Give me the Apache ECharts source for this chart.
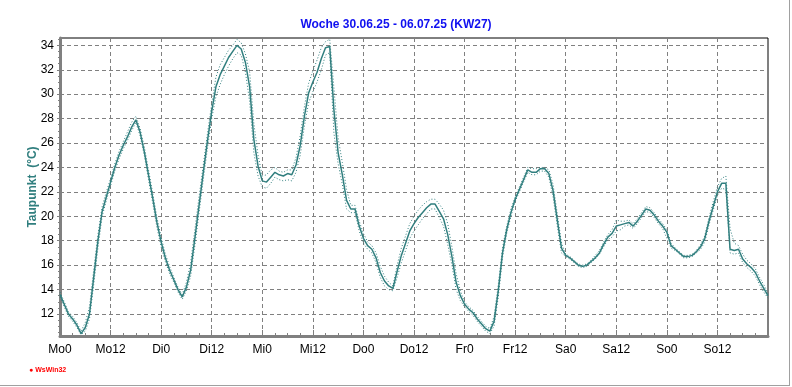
<!DOCTYPE html>
<html>
<head>
<meta charset="utf-8">
<script src="https://cdn.jsdelivr.net/npm/echarts@6/dist/echarts.min.js"></script>
<style>html,body{margin:0;padding:0;background:#fff}#c{width:792px;height:387px}</style>
</head>
<body>
<div id="c"></div>
<script>
const titleText = 'Woche 30.06.25 - 06.07.25 (KW27)';
const yName = 'Taupunkt  (°C)';
const tickLabels = ['Mo0','Mo12','Di0','Di12','Mi0','Mi12','Do0','Do12','Fr0','Fr12','Sa0','Sa12','So0','So12',''];
const yTicks = [12,14,16,18,20,22,24,26,28,30,32,34];
const yMinorTicks = [10.5,11,11.5,12.5,13,13.5,14.5,15,15.5,16.5,17,17.5,18.5,19,19.5,20.5,21,21.5,22.5,23,23.5,24.5,25,25.5,26.5,27,27.5,28.5,29,29.5,30.5,31,31.5,32.5,33,33.5,34.5];
// hours since Monday 00:00, one reading per hour
const hours = Array.from({length: 169}, (_, i) => i);
const dewPoint = [
  13.6,12.8,12.0,11.6,11.1,10.4,10.9,12.0,15.0,18.0,20.4,21.6,22.8,24.0,25.0,25.8,26.5,27.3,27.9,26.9,25.3,23.4,21.5,19.5,
  17.9,16.6,15.6,14.8,14.0,13.4,14.2,15.6,18.2,20.9,23.6,26.2,28.6,30.6,31.6,32.3,33.0,33.5,34.0,33.7,32.6,30.6,26.3,24.1,
  22.9,22.8,23.2,23.6,23.4,23.3,23.5,23.4,24.2,25.8,28.2,30.1,31.0,31.8,32.9,33.8,33.9,28.7,25.2,23.4,21.3,20.6,20.6,19.2,
  18.2,17.6,17.3,16.6,15.4,14.7,14.3,14.1,15.5,16.8,17.8,18.8,19.4,19.9,20.3,20.7,21.0,21.0,20.4,19.8,18.5,16.7,14.6,13.5,
  12.8,12.4,12.1,11.6,11.2,10.8,10.6,11.4,13.9,17.0,18.9,20.3,21.4,22.2,23.0,23.8,23.6,23.6,23.9,23.9,23.5,22.1,19.7,17.4,
  16.8,16.6,16.3,16.0,15.9,16.0,16.3,16.6,17.0,17.7,18.3,18.6,19.2,19.3,19.4,19.5,19.2,19.6,20.1,20.6,20.5,20.1,19.6,19.2,
  18.7,17.6,17.3,17.0,16.7,16.7,16.8,17.1,17.5,18.2,19.6,20.8,22.0,22.7,22.7,17.3,17.2,17.3,16.5,16.1,15.8,15.4,14.7,14.1,
  13.5
];
const dewMax = [
  13.8,13.0,12.2,11.8,11.3,10.6,11.3,12.6,15.6,18.5,20.8,22.0,23.1,24.3,25.3,26.1,26.9,27.7,28.2,27.2,25.7,23.8,21.9,19.9,
  18.3,16.9,15.9,15.0,14.2,13.6,14.6,16.2,18.9,21.6,24.2,26.8,29.2,31.4,32.4,33.0,33.6,34.0,34.5,34.2,33.3,31.8,27.6,25.0,
  23.3,23.4,23.8,24.0,23.7,23.6,23.8,23.8,24.8,26.6,29.0,30.9,31.9,32.8,33.8,34.3,34.5,30.5,26.4,24.4,22.2,20.9,20.9,19.6,
  18.6,17.9,17.6,17.0,15.9,15.1,14.6,14.3,16.0,17.4,18.4,19.4,20.0,20.5,20.9,21.2,21.4,21.4,21.0,20.5,19.4,17.5,15.3,13.9,
  13.0,12.6,12.3,11.8,11.4,11.0,10.8,11.8,14.4,17.4,19.2,20.6,21.6,22.4,23.2,24.0,23.9,23.9,24.0,24.0,23.8,22.6,20.2,17.8,
  16.9,16.7,16.4,16.1,16.0,16.1,16.4,16.8,17.2,17.9,18.5,18.9,19.7,19.6,19.6,19.7,19.4,19.8,20.3,20.8,20.7,20.3,19.8,19.4,
  18.9,17.8,17.4,17.1,16.8,16.8,16.9,17.2,17.7,18.4,19.9,21.2,22.4,23.1,23.3,19.0,17.8,17.6,16.9,16.4,16.1,15.7,15.0,14.4,
  13.7
];
const dewMin = [
  13.4,12.6,11.8,11.4,10.9,10.3,10.6,11.6,14.4,17.4,20.0,21.3,22.5,23.7,24.7,25.5,26.2,27.0,27.7,26.6,25.0,23.0,21.1,19.1,
  17.5,16.3,15.3,14.6,13.8,13.2,13.9,15.1,17.6,20.3,23.0,25.6,28.0,29.8,30.8,31.6,32.3,32.9,33.4,33.2,31.8,29.4,25.2,23.3,
  22.4,22.3,22.7,23.2,23.0,22.9,23.0,22.9,23.6,25.0,27.4,29.3,30.2,31.0,32.0,33.2,33.4,26.8,24.3,22.6,20.6,20.3,20.3,18.8,
  17.8,17.3,17.0,16.2,15.0,14.3,14.0,13.9,15.0,16.2,17.2,18.2,18.8,19.3,19.8,20.2,20.6,20.6,19.9,19.2,17.7,16.0,14.0,13.1,
  12.6,12.2,11.9,11.4,11.0,10.6,10.4,11.0,13.4,16.6,18.6,20.0,21.2,22.0,22.8,23.6,23.4,23.4,23.7,23.7,23.2,21.6,19.2,17.0,
  16.7,16.5,16.2,15.9,15.8,15.9,16.2,16.5,16.9,17.5,18.1,18.3,18.8,18.9,19.2,19.3,19.0,19.4,19.9,20.4,20.3,19.9,19.4,19.0,
  18.2,17.4,17.2,16.9,16.6,16.6,16.7,17.0,17.3,17.9,19.3,20.5,21.7,22.3,22.2,17.0,16.9,17.0,16.2,15.8,15.5,15.1,14.4,13.8,
  13.3
];

const pairs = arr => hours.map((h, i) => [h, arr[i]]);
const teal = '#317f7f';
const font = 'Liberation Sans, Arial, sans-serif';
const gridLine = {show: true, lineStyle: {color: '#808080', type: [4, 3], width: 1}};

const chart = echarts.init(document.getElementById('c'), null, {renderer: 'canvas'});
chart.setOption({
  animation: false,
  backgroundColor: '#fff',
  title: [
    {text: titleText, left: 'center', top: 14,
     textStyle: {color: '#1010f0', fontSize: 12, fontWeight: 'bold', fontFamily: font}},
    {text: '● WsWin32', left: 24, top: 362,
     textStyle: {color: '#ff0000', fontSize: 7, fontWeight: 'bold', fontFamily: font}}
  ],
  graphic: [
    {type: 'line', shape: {x1: 789.5, y1: 0, x2: 789.5, y2: 386}, style: {stroke: '#a0a0a0', lineWidth: 1}, silent: true},
    {type: 'line', shape: {x1: 0, y1: 385.5, x2: 790, y2: 385.5}, style: {stroke: '#a0a0a0', lineWidth: 1}, silent: true}
  ],
  grid: {left: 60, right: 24, top: 38, bottom: 51, show: true, borderColor: '#000', borderWidth: 1},
  xAxis: {
    type: 'value', min: 0, max: 168, interval: 12,
    axisLine: {show: true, lineStyle: {color: '#808080', width: 3}},
    axisTick: {show: true, inside: true, length: 6, lineStyle: {color: '#808080', width: 1}},
    minorTick: {show: true, splitNumber: 4, length: 3, lineStyle: {color: '#808080'}},
    axisLabel: {color: '#000', fontSize: 12, fontFamily: font, margin: 8,
      formatter: v => tickLabels[Math.round(v / 12)] || '', showMaxLabel: false},
    splitLine: gridLine
  },
  yAxis: [{
    type: 'value', min: 10.2, max: 34.6,
    name: yName, nameLocation: 'middle', nameGap: 21, nameRotate: 90, nameMoveOverlap: false,
    nameTextStyle: {color: teal, fontSize: 12, fontWeight: 'bold', fontFamily: font},
    axisLine: {show: true, lineStyle: {color: '#808080', width: 3}},
    axisTick: {show: true, inside: false, length: 3, customValues: yTicks, lineStyle: {color: '#808080'}},
    minorTick: {show: false},
    axisLabel: {color: '#000', fontSize: 12, fontFamily: font, margin: 6, customValues: yTicks},
    splitLine: gridLine
  }, {
    type: 'value', min: 10.2, max: 34.6, position: 'left',
    axisLine: {show: false},
    axisTick: {show: true, inside: false, length: 2, customValues: yMinorTicks, lineStyle: {color: '#808080'}},
    axisLabel: {show: false, customValues: yMinorTicks},
    splitLine: {show: false}
  }],
  series: [
    {type: 'line', data: pairs(dewMax), showSymbol: false, lineStyle: {color: teal, width: 1, type: [1, 2]}},
    {type: 'line', data: pairs(dewMin), showSymbol: false, lineStyle: {color: teal, width: 1, type: [1, 2]}},
    {type: 'line', data: pairs(dewPoint), showSymbol: false, lineStyle: {color: teal, width: 1.5}}
  ]
});
</script>
</body>
</html>
